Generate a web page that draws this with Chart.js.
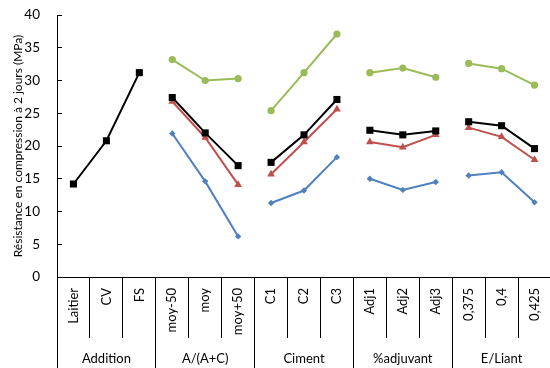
<!DOCTYPE html>
<html>
<head>
<meta charset="utf-8">
<script src="https://cdn.jsdelivr.net/npm/chart.js@4"></script>
<style>
  html, body { margin: 0; padding: 0; background: #fff; overflow: hidden; }
  #wrap { width: 556px; height: 368px; }
</style>
</head>
<body>
<div id="wrap"><canvas id="myChart"></canvas></div>
<script>
// data
const categories = ['Laitier', 'CV', 'FS', 'moy-50', 'moy', 'moy+50', 'C1', 'C2', 'C3', 'Adj1', 'Adj2', 'Adj3', '0,375', '0,4', '0,425'];
const groups = ['Addition', 'A/(A+C)', 'Ciment', '%adjuvant', 'E/Liant'];
const serieNoire = [14.2, 20.8, 31.2, 27.4, 22.0, 17.0, 17.5, 21.7, 27.1, 22.4, 21.7, 22.3, 23.7, 23.1, 19.6];
const serieVerte = [null, null, null, 33.2, 30.0, 30.3, 25.4, 31.2, 37.1, 31.2, 31.9, 30.5, 32.6, 31.8, 29.3];
const serieRouge = [null, null, null, 26.8, 21.3, 14.1, 15.7, 20.6, 25.6, 20.6, 19.8, 21.7, 22.8, 21.4, 17.9];
const serieBleue = [null, null, null, 21.9, 14.6, 6.2, 11.3, 13.2, 18.3, 15.0, 13.3, 14.5, 15.5, 16.0, 11.4];
const yTicks = [0, 5, 10, 15, 20, 25, 30, 35, 40];

const FONT = 'Lato';

// no line between two groups
const cutGroups = {
  borderColor: ctx => (ctx.p0DataIndex % 3 === 2 ? 'transparent' : undefined)
};

function serie(label, data, color, style, radius) {
  return {
    label: label,
    data: data,
    borderColor: color,
    backgroundColor: color,
    borderWidth: 2,
    pointStyle: style,
    pointRadius: radius,
    pointHoverRadius: radius,
    pointBorderWidth: 0,
    tension: 0,
    spanGaps: false,
    segment: cutGroups
  };
}

const data = {
  labels: categories,
  datasets: [
    serie('noir', serieNoire, '#000000', 'rect', 5),
    serie('vert', serieVerte, '#9BBB59', 'circle', 3.6),
    serie('rouge', serieRouge, '#C0504D', 'triangle', 4.5),
    serie('bleu', serieBleue, '#4F81BD', 'rectRot', 3.2)
  ]
};
// black on top
data.datasets[0].order = 0;
data.datasets[1].order = 3;
data.datasets[2].order = 2;
data.datasets[3].order = 1;

const config = {
  type: 'line',
  data: data,
  options: {
    responsive: true,
    maintainAspectRatio: false,
    animation: false,
    layout: { padding: { top: 15, right: 2, bottom: 0, left: 0 } },
    plugins: { legend: { display: false }, tooltip: { enabled: false } },
    scales: {
      x: {
        type: 'category',
        position: 'bottom',
        weight: 0,
        offset: true,
        grid: { offset: true, drawOnChartArea: false, color: '#000', tickLength: 61, lineWidth: 1 },
        border: { color: '#000', width: 1 },
        ticks: {
          autoSkip: false, minRotation: 90, maxRotation: 90, padding: -50,
          color: '#000', font: { family: FONT, size: 13 }
        },
        afterFit: s => { s.height = 61; }
      },
      groupe: {
        type: 'category',
        labels: groups,
        position: 'bottom',
        weight: 1,
        offset: true,
        grid: { offset: true, drawOnChartArea: false, color: '#000', tickLength: 30, lineWidth: 1 },
        border: { display: false },
        ticks: { autoSkip: false, maxRotation: 0, padding: -17, color: '#000', font: { family: FONT, size: 13 } },
        afterFit: s => { s.height = 30; }
      },
      y: {
        min: 0,
        max: 40,
        afterBuildTicks: s => { s.ticks = yTicks.map(v => ({ value: v })); },
        grid: { drawOnChartArea: false, color: '#000', tickLength: -5 },
        border: { color: '#000', width: 1 },
        ticks: { padding: 22, color: '#000', font: { family: FONT, size: 13.5 } },
        title: {
          display: true,
          text: 'Résistance en compression à 2 jours (MPa)',
          color: '#000',
          font: { family: FONT, size: 12 },
          padding: { top: 11, bottom: 0 }
        },
        afterFit: s => { s.width = 57; s.paddingTop = 0; s.paddingBottom = 0; }
      }
    }
  }
};

new Chart(document.getElementById('myChart'), config);
</script>
</body>
</html>
